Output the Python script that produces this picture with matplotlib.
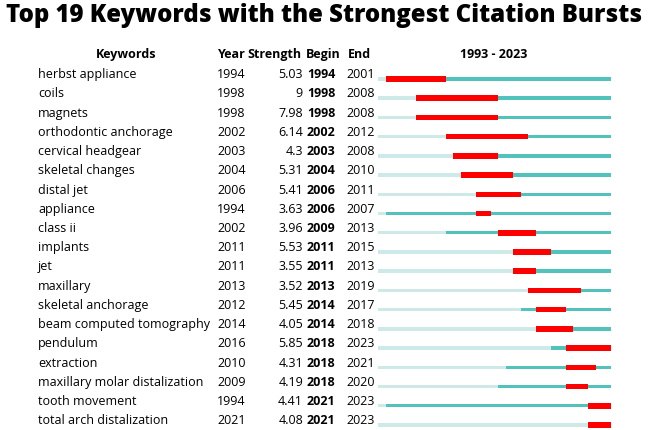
import matplotlib
matplotlib.use("Agg")
import matplotlib.pyplot as plt
import matplotlib.transforms as mtransforms

plt.rcParams['font.family'] = ['Open Sans', 'DejaVu Sans']

keywords = ["herbst appliance", "coils", "magnets", "orthodontic anchorage",
            "cervical headgear", "skeletal changes", "distal jet", "appliance",
            "class ii", "implants", "jet", "maxillary", "skeletal anchorage",
            "beam computed tomography", "pendulum", "extraction",
            "maxillary molar distalization", "tooth movement",
            "total arch distalization"]
years = [1994, 1998, 1998, 2002, 2003, 2004, 2006, 1994, 2002, 2011, 2011,
         2013, 2012, 2014, 2016, 2010, 2009, 1994, 2021]
strength = [5.03, 9, 7.98, 6.14, 4.3, 5.31, 5.41, 3.63, 3.96, 5.53, 3.55,
            3.52, 5.45, 4.05, 5.85, 4.31, 4.19, 4.41, 4.08]
begin = [1994, 1998, 1998, 2002, 2003, 2004, 2006, 2006, 2009, 2011, 2011,
         2013, 2014, 2014, 2018, 2018, 2018, 2021, 2021]
end = [2001, 2008, 2008, 2012, 2008, 2010, 2011, 2007, 2013, 2015, 2013,
       2019, 2017, 2018, 2023, 2021, 2020, 2023, 2023]
first_year, last_year = 1993, 2023

W, H = 648, 430
fig = plt.figure(figsize=(W / 100, H / 100), dpi=100)

# bar area: x in years, y in row index
row0_px, row_step = 79, 19.22
top_px = 40
r_top = (top_px - row0_px) / row_step
r_bot = (H - row0_px) / row_step
ax = fig.add_axes([378 / W, 0, 233 / W, (H - top_px) / H])
ax.set_xlim(first_year, last_year + 1)
ax.set_ylim(r_bot, r_top)
ax.axis("off")

light = "#cde9e8"
teal = "#52c2bc"
red = "#ff0000"
for i in range(len(keywords)):
    ax.broken_barh([(first_year, years[i] - first_year)], (i - 0.09, 0.18),
                   facecolor=light, edgecolor="none")
    ax.broken_barh([(years[i], last_year + 1 - years[i])], (i - 0.09, 0.18),
                   facecolor=teal, edgecolor="none")
    ax.broken_barh([(begin[i], end[i] + 1 - begin[i])], (i - 0.145, 0.29),
                   facecolor=red, edgecolor="none")

# text columns: x in figure pixels, y in rows
tr = mtransforms.blended_transform_factory(
    mtransforms.Affine2D().scale(1 / W, 1) + fig.transFigure, ax.transData)
fs = 9
dy = -0.22
for i in range(len(keywords)):
    y = i + dy
    ax.text(38, y, keywords[i], transform=tr, fontsize=fs, va="center", ha="left", clip_on=False)
    ax.text(217, y, str(years[i]), transform=tr, fontsize=fs, va="center", ha="left", clip_on=False)
    ax.text(303, y, "{:g}".format(strength[i]), transform=tr, fontsize=fs, va="center", ha="right", clip_on=False)
    ax.text(307, y, str(begin[i]), transform=tr, fontsize=fs, va="center", ha="left",
            fontweight="bold", clip_on=False)
    ax.text(346, y, str(end[i]), transform=tr, fontsize=fs, va="center", ha="left", clip_on=False)

hy = -1.25
ax.text(126, hy, "Keywords", transform=tr, fontsize=fs, fontweight="bold", va="center", ha="center", clip_on=False)
ax.text(218, hy, "Year", transform=tr, fontsize=fs, fontweight="bold", va="center", ha="left", clip_on=False)
ax.text(302, hy, "Strength", transform=tr, fontsize=fs, fontweight="bold", va="center", ha="right", clip_on=False)
ax.text(306, hy, "Begin", transform=tr, fontsize=fs, fontweight="bold", va="center", ha="left", clip_on=False)
ax.text(348, hy, "End", transform=tr, fontsize=fs, fontweight="bold", va="center", ha="left", clip_on=False)
ax.text(494, hy, f"{first_year} - {last_year}", transform=tr, fontsize=fs, fontweight="bold",
        va="center", ha="center", clip_on=False)

fig.text(0.5, 1 - 16 / H, "Top 19 Keywords with the Strongest Citation Bursts",
         fontsize=17.3, fontweight="heavy", ha="center", va="center")

fig.savefig("out.png", dpi=100)
